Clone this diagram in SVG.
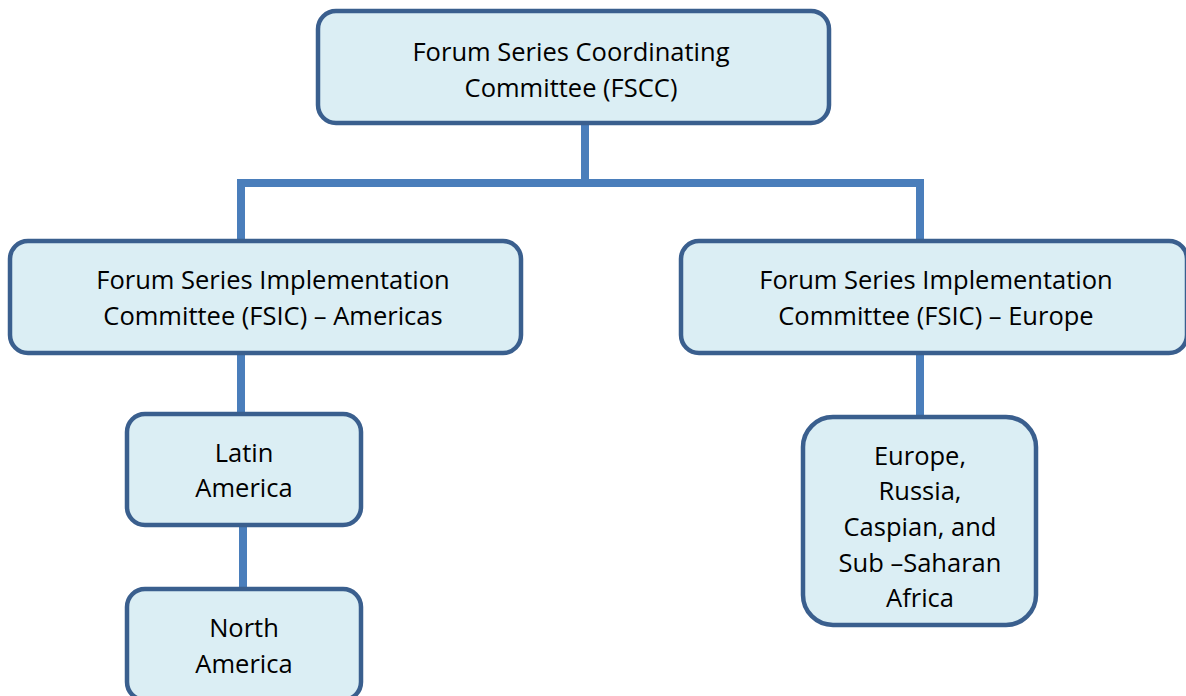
<svg xmlns="http://www.w3.org/2000/svg" width="1186" height="696" viewBox="0 0 1186 696">
<style>
.box{fill:#DBEEF4;stroke:#3A5F8E;stroke-width:4.5}
.lbl{font-family:"Open Sans","Liberation Sans",sans-serif;font-size:25.5px;fill:#000;text-anchor:middle}
.con{stroke:#4A7EBB;stroke-width:8;fill:none}
</style>
<rect width="1186" height="696" fill="#fff"/>
<g id="connectors">
<line class="con" x1="585" y1="124" x2="585" y2="183"/>
<line class="con" x1="237" y1="183" x2="924" y2="183"/>
<line class="con" x1="241" y1="179" x2="241" y2="241"/>
<line class="con" x1="920" y1="179" x2="920" y2="241"/>
<line class="con" x1="241" y1="353" x2="241" y2="414"/>
<line class="con" x1="243" y1="525" x2="243" y2="589"/>
<line class="con" x1="920" y1="353" x2="920" y2="417"/>
</g>
<g id="fscc">
<rect class="box" x="318" y="11" width="511" height="112" rx="18"/>
<text class="lbl" x="571" y="61">Forum Series Coordinating</text>
<text class="lbl" x="571" y="97">Committee (FSCC)</text>
</g>
<g id="fsic-americas">
<rect class="box" x="10" y="241" width="511" height="112" rx="18"/>
<text class="lbl" x="273" y="289">Forum Series Implementation</text>
<text class="lbl" x="273" y="325">Committee (FSIC) – Americas</text>
</g>
<g id="fsic-europe">
<rect class="box" x="681" y="241" width="506" height="112" rx="18"/>
<text class="lbl" x="936" y="289">Forum Series Implementation</text>
<text class="lbl" x="936" y="325">Committee (FSIC) – Europe</text>
</g>
<g id="latin-america">
<rect class="box" x="127" y="414" width="234" height="111" rx="18"/>
<text class="lbl" x="244" y="462">Latin</text>
<text class="lbl" x="244" y="497">America</text>
</g>
<g id="north-america">
<rect class="box" x="127" y="589" width="234" height="111" rx="18"/>
<text class="lbl" x="244" y="637">North</text>
<text class="lbl" x="244" y="673">America</text>
</g>
<g id="europe-africa">
<rect class="box" x="803" y="417" width="233" height="208" rx="30"/>
<text class="lbl" x="920" y="465">Europe,</text>
<text class="lbl" x="920" y="500">Russia,</text>
<text class="lbl" x="920" y="536">Caspian, and</text>
<text class="lbl" x="920" y="572">Sub –Saharan</text>
<text class="lbl" x="920" y="607">Africa</text>
</g>
</svg>
